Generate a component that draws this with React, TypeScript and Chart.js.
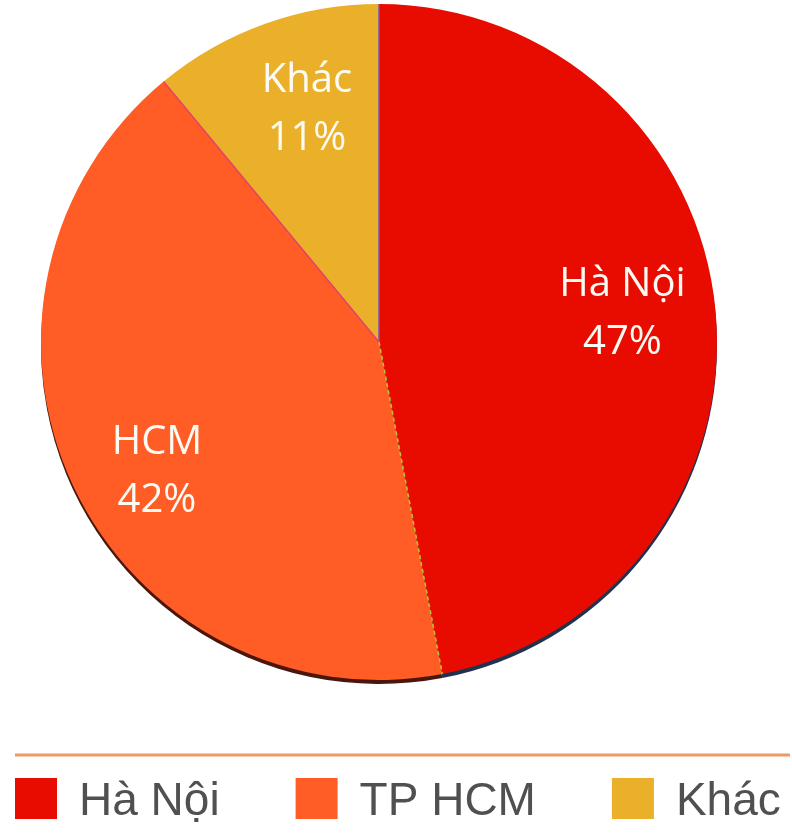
import React, { useEffect, useRef } from "react";
import { Chart, registerables } from "chart.js";

Chart.register(...registerables);

const categories = ["Hà Nội", "TP HCM", "Khác"];
const sliceLabels = ["Hà Nội", "HCM", "Khác"];
const shares = [47, 42, 11];
const colors = ["#E80C00", "#FF5C26", "#EBB02A"];
const rimColors = ["#1f3350", "#4a170c", "#5a3a10"];
const edgeColors = ["#7a55b0", "#b8c630", "#e8406a"];

const pieExtras = {
  id: "pieExtras",
  beforeDatasetsDraw(chart: any) {
    const ctx = chart.ctx;
    const meta = chart.getDatasetMeta(0);
    ctx.save();
    meta.data.forEach((arc: any, i: number) => {
      const { x, y, outerRadius, startAngle, endAngle } = arc.getProps(
        ["x", "y", "outerRadius", "startAngle", "endAngle"],
        true
      );
      ctx.beginPath();
      ctx.moveTo(x, y + 4);
      ctx.arc(x, y + 4, outerRadius, startAngle, endAngle);
      ctx.closePath();
      ctx.fillStyle = rimColors[i];
      ctx.fill();
    });
    ctx.restore();
  },
  afterDatasetsDraw(chart: any) {
    const ctx = chart.ctx;
    const meta = chart.getDatasetMeta(0);
    ctx.save();
    meta.data.forEach((arc: any, i: number) => {
      const { x, y, outerRadius, startAngle } = arc.getProps(
        ["x", "y", "outerRadius", "startAngle"],
        true
      );
      ctx.beginPath();
      ctx.moveTo(x, y);
      ctx.lineTo(x + Math.cos(startAngle) * outerRadius, y + Math.sin(startAngle) * outerRadius);
      ctx.strokeStyle = edgeColors[i];
      ctx.lineWidth = 1.5;
      ctx.setLineDash(i === 1 ? [4, 3] : []);
      ctx.stroke();
    });
    ctx.setLineDash([]);
    ctx.fillStyle = "#fbfbf4";
    ctx.font = "40px 'Open Sans'";
    ctx.textAlign = "center";
    ctx.textBaseline = "middle";
    const frac = [0.725, 0.76, 0.72];
    const nudgeDeg = [-1.2, -5, 2.6];
    meta.data.forEach((arc: any, i: number) => {
      const { x, y, outerRadius, startAngle, endAngle } = arc.getProps(
        ["x", "y", "outerRadius", "startAngle", "endAngle"],
        true
      );
      const mid = (startAngle + endAngle) / 2 + (nudgeDeg[i] * Math.PI) / 180;
      const lx = x + Math.cos(mid) * outerRadius * frac[i];
      const ly = y + Math.sin(mid) * outerRadius * frac[i];
      ctx.fillText(sliceLabels[i], lx, ly - 29);
      ctx.fillText(shares[i] + "%", lx, ly + 29);
    });
    ctx.restore();
  },
  afterDraw(chart: any) {
    const ctx = chart.ctx;
    ctx.save();
    ctx.beginPath();
    ctx.moveTo(15, 755);
    ctx.lineTo(790, 755);
    ctx.strokeStyle = "#EE9A66";
    ctx.lineWidth = 3;
    ctx.stroke();
    ctx.font = "46px 'Liberation Sans'";
    ctx.textBaseline = "alphabetic";
    ctx.textAlign = "left";
    let x = 15;
    const boxW = 42;
    const boxH = 41;
    const boxTop = 778;
    categories.forEach((label, i) => {
      ctx.fillStyle = colors[i];
      ctx.fillRect(x, boxTop, boxW, boxH);
      x += boxW + 22;
      ctx.fillStyle = "#505050";
      ctx.fillText(label, x, 815);
      x += ctx.measureText(label).width + 76;
    });
    ctx.restore();
  },
};

export default function App() {
  const ref = useRef<HTMLCanvasElement | null>(null);
  useEffect(() => {
    if (!ref.current) return;
    const chart = new Chart(ref.current, {
      type: "pie",
      data: {
        labels: categories,
        datasets: [
          {
            data: shares,
            backgroundColor: colors,
            borderWidth: 0,
          },
        ],
      },
      options: {
        responsive: false,
        animation: false,
        layout: { padding: { top: 4, bottom: 155, left: 41, right: 75 } },
        plugins: {
          legend: { display: false },
          tooltip: { enabled: false },
        },
      },
      plugins: [pieExtras],
    });
    return () => chart.destroy();
  }, []);
  return (
    <div style={{ position: "absolute", left: 0, top: 0, width: 792, height: 835, background: "#fff" }}>
      <canvas ref={ref} width={792} height={835} style={{ display: "block" }} />
    </div>
  );
}
